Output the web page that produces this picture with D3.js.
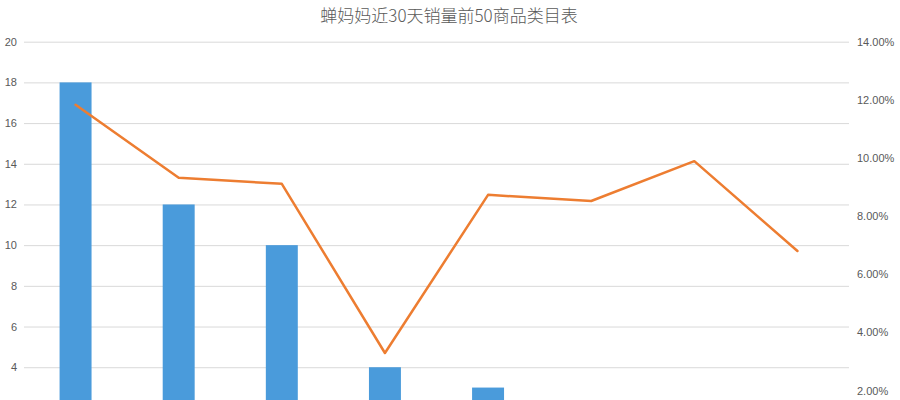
<!DOCTYPE html>
<html><head><meta charset="utf-8">
<script src="https://cdn.jsdelivr.net/npm/d3@7"></script>
<style>body{margin:0;background:#fff}svg{display:block}</style>
</head><body>
<svg id="c" width="900" height="400"></svg>
<script>
const title = "蝉妈妈近30天销量前50商品类目表";
const categories = ["类目1","类目2","类目3","类目4","类目5","类目6","类目7","类目8"];
const counts = [18, 12, 10, 4, 3, 1, 1, 1];
const shares = [0.1183, 0.0932, 0.0911, 0.0329, 0.0873, 0.0852, 0.0989, 0.0680];
const leftTicks = [4, 6, 8, 10, 12, 14, 16, 18, 20];
const rightTicks = [0.02, 0.04, 0.06, 0.08, 0.10, 0.12, 0.14];

const svg = d3.select("#c");
const plotLeft = 24, plotRight = 849, plotTop = 41.7, zeroY = 448.6;
const x = d3.scaleBand().domain(categories).range([plotLeft, plotRight]).paddingInner(0.69).paddingOuter(0.345);
const y = d3.scaleLinear().domain([0, 20]).range([zeroY, plotTop]);
const y2 = d3.scaleLinear().domain([0, 0.14]).range([zeroY, plotTop]);

svg.append("text").attr("x", 449).attr("y", 21.5).attr("text-anchor", "middle")
  .attr("font-family", "'Noto Sans CJK SC', sans-serif").attr("font-size", 17).attr("font-weight", 300)
  .attr("fill", "#595959").text(title);

// gridlines + left axis
const gl = svg.append("g").attr("transform", `translate(${plotLeft},0)`)
  .call(d3.axisLeft(y).tickValues(leftTicks).tickSize(-(plotRight - plotLeft)).tickPadding(7).tickFormat(d3.format("d")));
gl.select(".domain").remove();
gl.selectAll(".tick line").attr("stroke", "#d9d9d9").attr("stroke-width", 1);
gl.selectAll(".tick text").attr("fill", "#595959").attr("font-size", 11).attr("font-family", "'Liberation Sans', Arial, sans-serif");

// right axis
const gr = svg.append("g").attr("transform", `translate(${plotRight},0)`)
  .call(d3.axisRight(y2).tickValues(rightTicks).tickSize(0).tickPadding(8).tickFormat(d3.format(".2%")));
gr.select(".domain").remove();
gr.selectAll(".tick text").attr("fill", "#595959").attr("font-size", 11).attr("font-family", "'Liberation Sans', Arial, sans-serif");

// bars
svg.append("g").selectAll("rect").data(categories).join("rect")
  .attr("x", d => x(d)).attr("width", x.bandwidth())
  .attr("y", (d, i) => y(counts[i])).attr("height", (d, i) => zeroY - y(counts[i]))
  .attr("fill", "#4A9BDB");

// line
const line = d3.line().x((d, i) => x(categories[i]) + x.bandwidth() / 2).y(d => y2(d));
svg.append("path").datum(shares).attr("d", line).attr("fill", "none")
  .attr("stroke", "#ED7D31").attr("stroke-width", 2.5).attr("stroke-linejoin", "round").attr("stroke-linecap", "round");
</script>
</body></html>
